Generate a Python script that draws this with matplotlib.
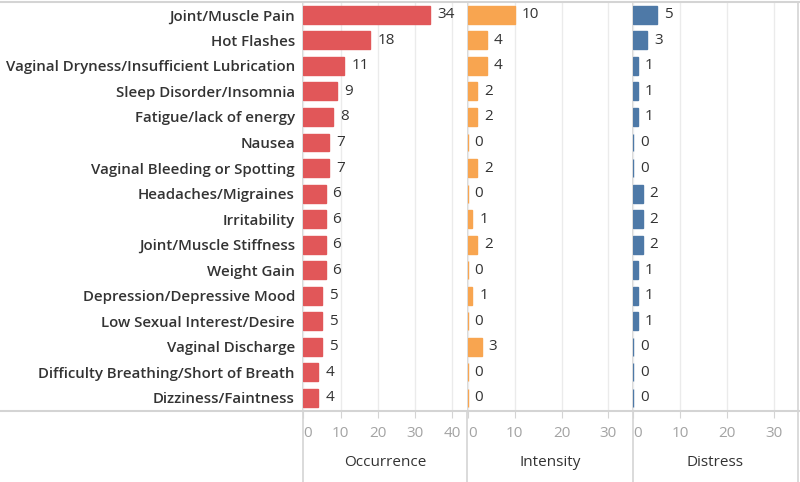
import matplotlib
matplotlib.use("Agg")
import matplotlib.pyplot as plt
from matplotlib.lines import Line2D
import numpy as np

symptoms = [
    "Joint/Muscle Pain", "Hot Flashes", "Vaginal Dryness/Insufficient Lubrication",
    "Sleep Disorder/Insomnia", "Fatigue/lack of energy", "Nausea",
    "Vaginal Bleeding or Spotting", "Headaches/Migraines", "Irritability",
    "Joint/Muscle Stiffness", "Weight Gain", "Depression/Depressive Mood",
    "Low Sexual Interest/Desire", "Vaginal Discharge",
    "Difficulty Breathing/Short of Breath", "Dizziness/Faintness",
]
occurrence = [34, 18, 11, 9, 8, 7, 7, 6, 6, 6, 6, 5, 5, 5, 4, 4]
intensity = [10, 4, 4, 2, 2, 0, 2, 0, 1, 2, 0, 1, 0, 3, 0, 0]
distress = [5, 3, 1, 1, 1, 0, 0, 2, 2, 2, 1, 1, 1, 0, 0, 0]

panel_titles = ["Occurrence", "Intensity", "Distress"]
panel_ticks = [[0, 10, 20, 30, 40], [0, 10, 20, 30], [0, 10, 20, 30]]
panel_xmax = [44, 35, 35]
colors = ["#E15759", "#F8A550", "#4E79A7"]

plt.rcParams['font.family'] = ['Open Sans', 'DejaVu Sans']

W, H = 800, 482
fig = plt.figure(figsize=(8, 4.82), dpi=100)

top_px, bot_px = 2.0, 410.7
borders = [302.5, 467.0, 632.5, 797.7]
lefts = [303.3, 467.8, 633.3]
width_px = 164.0

def fx(px):
    return px / W

def fy(py):
    return 1 - py / H

grid_c = "#EBEBEB"
line_c = "#D4D4D4"
text_c = "#333333"
tick_c = "#A3A3A3"

y = np.arange(len(symptoms))
for i, (vals, col) in enumerate(zip([occurrence, intensity, distress], colors)):
    ax = fig.add_axes([fx(lefts[i]), fy(bot_px), width_px / W, (bot_px - top_px) / H])
    ax.set_xlim(0, panel_xmax[i])
    ax.set_ylim(len(symptoms) - 0.5, -0.5)
    ax.xaxis.grid(True, color=grid_c, lw=1)
    ax.set_axisbelow(True)
    bars = ax.barh(y, vals, height=0.7, color=col, edgecolor=col, linewidth=1.0)
    ax.bar_label(bars, labels=[str(v) for v in vals], padding=5, fontsize=11, color=text_c)
    for s in ax.spines.values():
        s.set_visible(False)
    ax.set_xticks(panel_ticks[i])
    ax.tick_params(axis='x', length=5, color=line_c, labelcolor=tick_c, labelsize=11, pad=6)
    for lab in ax.get_xticklabels():
        if lab.get_text() == "0":
            lab.set_horizontalalignment('left')
    ax.set_xlabel(panel_titles[i], fontsize=11, color=text_c)
    ax.xaxis.label.set_va('center')
    ax.xaxis.set_label_coords(0.5, -(462 - bot_px) / (bot_px - top_px))
    if i == 0:
        ax.set_yticks(y)
        ax.set_yticklabels(symptoms, fontsize=10.8, color=text_c, fontweight='semibold')
        ax.tick_params(axis='y', length=0, pad=6)
    else:
        ax.set_yticks([])

# frame lines (Tableau-style panel borders)
fig.add_artist(Line2D([0, 1], [fy(top_px), fy(top_px)], color=line_c, lw=1.5))
fig.add_artist(Line2D([0, 1], [fy(bot_px), fy(bot_px)], color=line_c, lw=1.5))
for xp in borders:
    fig.add_artist(Line2D([fx(xp), fx(xp)], [fy(top_px), 0], color=line_c, lw=1.2, zorder=0))

fig.savefig("out.png", dpi=100)
